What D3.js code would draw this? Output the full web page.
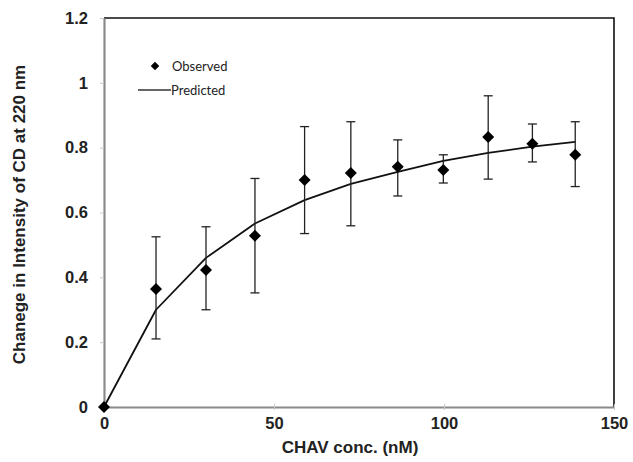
<!DOCTYPE html>
<html><head><meta charset="utf-8">
<script src="https://cdn.jsdelivr.net/npm/d3@7"></script>
<style>body{margin:0;background:#fff}</style>
</head><body>
<svg id="c" width="633" height="462"></svg>
<script>
const concX = [0, 15.3, 30, 44.4, 59, 72.6, 86.4, 99.8, 113, 126, 138.6];
const observed = [0, 0.364, 0.423, 0.528, 0.70, 0.722, 0.741, 0.731, 0.833, 0.812, 0.778];
const errUpper = [0, 0.525, 0.556, 0.705, 0.865, 0.88, 0.824, 0.778, 0.96, 0.873, 0.88];
const errLower = [0, 0.21, 0.30, 0.352, 0.535, 0.559, 0.651, 0.691, 0.703, 0.756, 0.68];
const predicted = [0, 0.30, 0.46, 0.566, 0.638, 0.688, 0.725, 0.759, 0.784, 0.803, 0.818];
const xTicks = [0, 50, 100, 150];
const yTicks = [0, 0.2, 0.4, 0.6, 0.8, 1, 1.2];

const svg = d3.select("#c");
const L = 104, R = 614, T = 18, B = 407;
const x = d3.scaleLinear().domain([0, 150]).range([L, R]);
const y = d3.scaleLinear().domain([0, 1.2]).range([B, T]);

svg.append("path").attr("d", `M${L},${T}H${R}V${B}`).attr("fill","none").attr("stroke","#111").attr("stroke-width",1.6);

const fontAx = "Liberation Sans, Arial, sans-serif";
const xAxis = svg.append("g").attr("transform",`translate(0,${B})`)
  .call(d3.axisBottom(x).tickValues(xTicks).tickFormat(d3.format("d")).tickSizeInner(4).tickSizeOuter(0).tickPadding(6));
const yAxis = svg.append("g").attr("transform",`translate(${L},0)`)
  .call(d3.axisLeft(y).tickValues(yTicks).tickFormat(d => String(d)).tickSizeInner(4).tickSizeOuter(0).tickPadding(12));
[xAxis, yAxis].forEach(g => {
  g.select(".domain").attr("stroke","#8a8a8a").attr("stroke-width",2.2);
  g.selectAll(".tick line").attr("stroke","#c8c8c8").attr("stroke-width",1);
  g.selectAll("text").attr("font-family",fontAx).attr("font-weight","bold").attr("font-size",16.5).attr("fill","#222");
});
xAxis.selectAll(".tick line").attr("y1",-3).attr("y2",3);
yAxis.selectAll(".tick line").attr("x1",-4).attr("x2",0);

svg.append("path").datum(concX.map((c,i)=>[c,predicted[i]]))
  .attr("d", d3.line().x(d=>x(d[0])).y(d=>y(d[1])).curve(d3.curveLinear))
  .attr("fill","none").attr("stroke","#111").attr("stroke-width",1.8).attr("stroke-linejoin","round");

const eb = svg.append("g").attr("stroke","#222").attr("stroke-width",1.3);
concX.forEach((c,i) => {
  if (errUpper[i] === errLower[i]) return;
  eb.append("line").attr("x1",x(c)).attr("x2",x(c)).attr("y1",y(errUpper[i])).attr("y2",y(errLower[i]));
  [errUpper[i], errLower[i]].forEach(v => eb.append("line").attr("x1",x(c)-4.5).attr("x2",x(c)+4.5).attr("y1",y(v)).attr("y2",y(v)));
});

const sym = d3.symbol().type(d3.symbolSquare).size(72);
svg.append("g").selectAll("path").data(concX.map((c,i)=>[c,observed[i]])).join("path")
  .attr("d", sym).attr("transform", d=>`translate(${x(d[0])},${y(d[1])}) rotate(45)`).attr("fill","#000");

const lg = svg.append("g").attr("font-family","Lato, 'Open Sans', sans-serif").attr("font-size",13).attr("fill","#222");
lg.append("path").attr("d", d3.symbol().type(d3.symbolSquare).size(36)).attr("transform","translate(155,66) rotate(45)").attr("fill","#000");
lg.append("text").attr("x",172).attr("y",71).text("Observed");
lg.append("line").attr("x1",138).attr("x2",171).attr("y1",90).attr("y2",90).attr("stroke","#333").attr("stroke-width",1.5);
lg.append("text").attr("x",171).attr("y",95).text("Predicted");

svg.append("text").attr("x",350).attr("y",453).attr("text-anchor","middle")
  .attr("font-family",fontAx).attr("font-weight","bold").attr("font-size",17).attr("fill","#222").text("CHAV conc. (nM)");
svg.append("text").attr("transform",`translate(25,${(T+B)/2+2}) rotate(-90)`).attr("text-anchor","middle")
  .attr("font-family",fontAx).attr("font-weight","bold").attr("font-size",17).attr("fill","#222").text("Chanege in Intensity of CD at 220 nm");
</script>
</body></html>
